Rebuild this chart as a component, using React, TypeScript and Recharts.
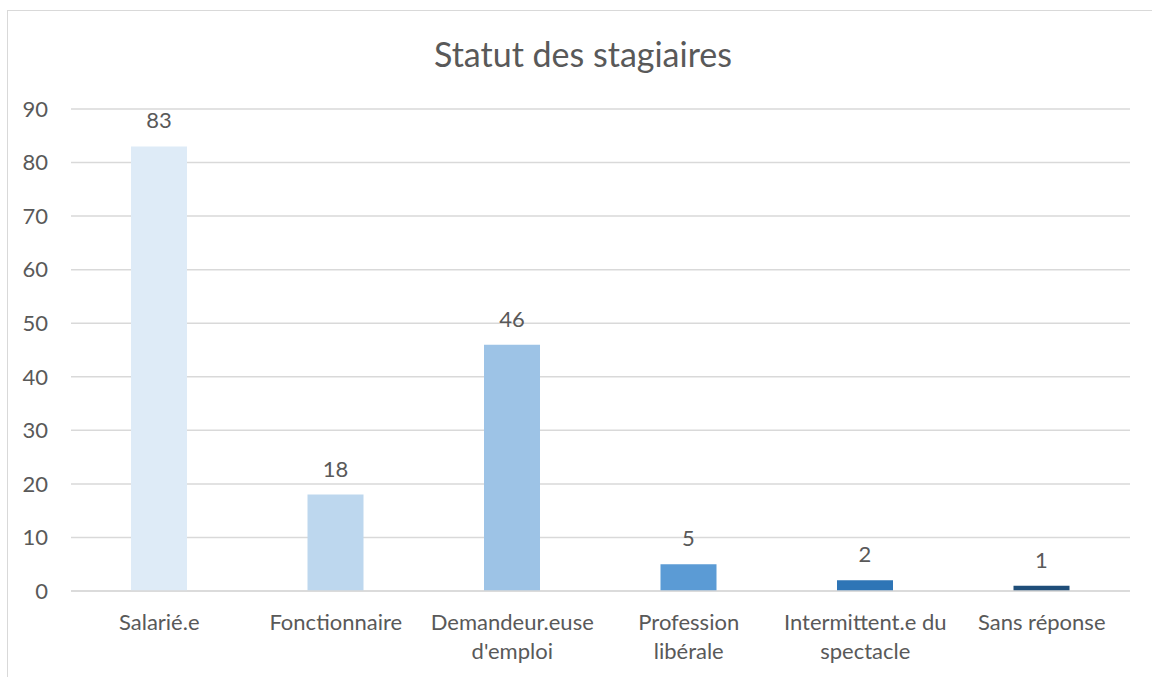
import { BarChart, Bar, XAxis, YAxis, CartesianGrid, Cell, LabelList } from "recharts";

const categories = [
  "Salarié.e",
  "Fonctionnaire",
  "Demandeur.euse d'emploi",
  "Profession libérale",
  "Intermittent.e du spectacle",
  "Sans réponse",
];
const counts = [83, 18, 46, 5, 2, 1];
const barColors = ["#DEEBF7", "#BDD7EE", "#9DC3E6", "#5B9BD5", "#2E75B6", "#1F4E79"];
const yTicks = [0, 10, 20, 30, 40, 50, 60, 70, 80, 90];

const data = categories.map((name, i) => ({ name, value: counts[i] }));

const FONT = "Lato, 'Open Sans', sans-serif";
const TEXT = "#595959";

// rough word wrap like Excel does for long category labels
function wrap(label: string, maxChars = 17): string[] {
  const words = label.split(" ");
  const lines: string[] = [];
  let cur = "";
  for (const w of words) {
    const next = cur ? cur + " " + w : w;
    if (next.length > maxChars && cur) {
      lines.push(cur);
      cur = w;
    } else {
      cur = next;
    }
  }
  if (cur) lines.push(cur);
  return lines;
}

function CategoryTick(props: any) {
  const { x, y, payload } = props;
  const lines = wrap(String(payload.value));
  return (
    <text x={x} y={y} textAnchor="middle" fill={TEXT} fontSize={22} fontFamily={FONT}>
      {lines.map((l, i) => (
        <tspan key={i} x={x} y={y + 39 + i * 29}>
          {l}
        </tspan>
      ))}
    </text>
  );
}

export default function App() {
  return (
    <div style={{ position: "absolute", left: 0, top: 0, width: 1152, height: 677, overflow: "hidden", background: "#fff" }}>
      <div
        style={{
          position: "absolute",
          left: 7,
          top: 10,
          width: 1200,
          height: 720,
          border: "1px solid #d9d9d9",
        }}
      />
      <div
        style={{
          position: "absolute",
          left: 0,
          width: 1166,
          top: 32,
          textAlign: "center",
          fontFamily: FONT,
          fontSize: 34,
          color: TEXT,
          lineHeight: "44px",
        }}
      >
        Statut des stagiaires
      </div>
      <div style={{ position: "absolute", left: 0, top: 0 }}>
        <BarChart width={1152} height={677} data={data} margin={{ top: 109, right: 22, bottom: 0, left: 0 }}>
          <CartesianGrid vertical={false} stroke="#d9d9d9" strokeWidth={1.5} />
          <XAxis
            dataKey="name"
            height={86}
            interval={0}
            tickLine={false}
            tickSize={0}
            tickMargin={0}
            axisLine={{ stroke: "#d9d9d9", strokeWidth: 1.5 }}
            tick={<CategoryTick />}
          />
          <YAxis
            width={71}
            domain={[0, 90]}
            ticks={yTicks}
            axisLine={false}
            tickLine={false}
            tickSize={0}
            tickMargin={23}
            tick={{ fill: TEXT, fontSize: 22, fontFamily: FONT }}
          />
          <Bar dataKey="value" barSize={56} isAnimationActive={false}>
            {data.map((d, i) => (
              <Cell key={d.name} fill={barColors[i]} />
            ))}
            <LabelList dataKey="value" position="top" offset={18} fill={TEXT} fontSize={22} fontFamily={FONT} />
          </Bar>
        </BarChart>
      </div>
    </div>
  );
}
